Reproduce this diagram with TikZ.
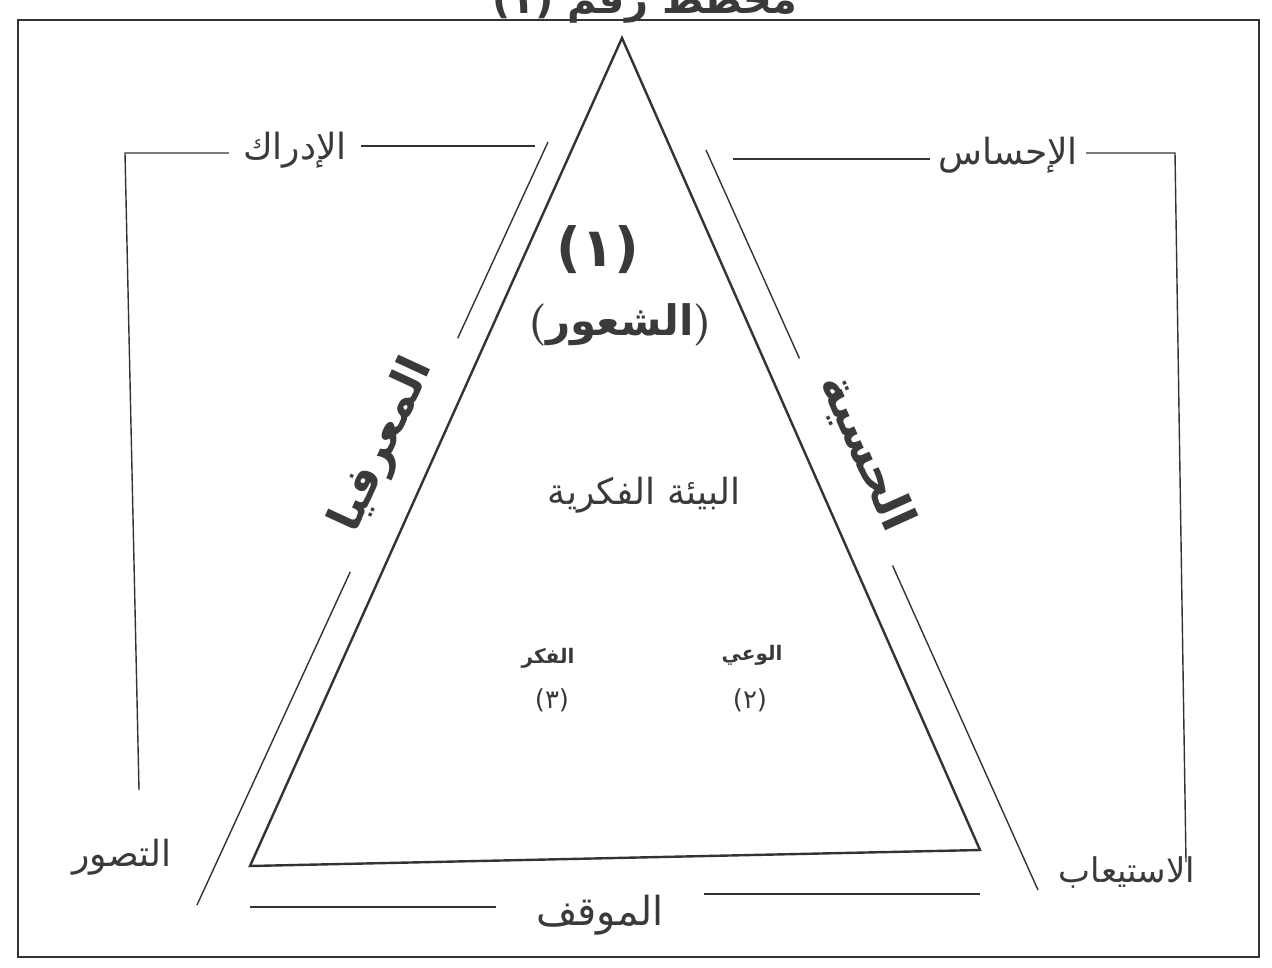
\documentclass[tikz,border=0pt]{standalone}
\usepackage{fontspec}
\newfontfamily\ar[Script=Arabic]{DejaVu Sans}
\TeXXeTstate=1
\newcommand{\AR}[1]{{\ar\beginR #1\endR}}
\newcommand{\fs}[1]{\fontsize{#1}{#1}\selectfont}
\definecolor{ink}{HTML}{333333}
\definecolor{txt}{HTML}{3A3A3A}
\tikzset{
  lbl/.style={text=txt, inner sep=2pt},
  ln/.style={draw=ink, line width=1.4pt},
  tri/.style={draw=ink, line width=2.4pt, line join=miter},
  frame/.style={draw=ink, line width=1.6pt},
  slant/.style={lbl, anchor=south, inner ysep=0pt}
}
\begin{document}
\begin{tikzpicture}[x=1pt,y=-1pt]
\useasboundingbox (0,0) rectangle (1272,967);
\clip (0,0) rectangle (1272,967);
\fill[white] (0,0) rectangle (1272,967);
% frame
\draw[frame] (18,20) rectangle (1259,957);
% title (cut by the top edge)
\node[lbl, anchor=base] (title) at (645,13) {\fs{40}\bfseries\ar (١) \AR{مخطط رقم}};
% triangle
\coordinate (A) at (622,38);
\coordinate (B) at (250,866);
\coordinate (C) at (980,850);
\draw[tri] (A) -- (B) -- (C) -- cycle;
% inner texts
\node[lbl] (one) at (598,250) {\fs{54}\bfseries\ar (١)};
\node[lbl] (shuur) at (620,325) {\fs{42}\bfseries (\AR{الشعور})};
\node[lbl] (bia) at (644,495) {\fs{36}\AR{البيئة الفكرية}};
\node[lbl] (wai) at (752,655) {\fs{20}\bfseries\AR{الوعي}};
\node[lbl] (two) at (750,700) {\fs{26}\ar (٢)};
\node[lbl] (fikr) at (548,658) {\fs{20}\bfseries\AR{الفكر}};
\node[lbl] (three) at (552,700) {\fs{26}\ar (٣)};
% left slanted line with text
\coordinate (L1) at (548,142);
\coordinate (L2) at (197,905);
\node[slant, rotate=65.3, inner xsep=36pt] (ltxt) at (404,455) {\fs{46}\bfseries\AR{المعرفيا}};
\draw[ln] (L1) -- (ltxt.south east);
\draw[ln] (ltxt.south west) -- (L2);
% right slanted line with text
\coordinate (R1) at (706,150);
\coordinate (R2) at (1038,890);
\node[slant, rotate=-65.8, inner xsep=30pt] (rtxt) at (846,462) {\fs{48}\bfseries\AR{الحسية}};
\draw[ln] (R1) -- (rtxt.south west);
\draw[ln] (rtxt.south east) -- (R2);
% top-left bracket
\node[lbl, inner xsep=14pt] (perc) at (295,150) {\fs{36}\AR{الإدراك}};
\coordinate (pl) at (125,153);
\coordinate (plb) at (139,790);
\coordinate (pr) at (535,146);
\draw[ln] (perc.east |- pr) -- (pr);
\draw[ln] (perc.west |- pl) -- (pl) -- (plb);
\node[lbl] (tasawwur) at (122,857) {\fs{36}\AR{التصور}};
% top-right bracket
\node[lbl, inner xsep=8pt] (sens) at (1008,155) {\fs{36}\AR{الإحساس}};
\coordinate (sl) at (733,159);
\coordinate (sr) at (1175,153);
\coordinate (srb) at (1186,862);
\draw[ln] (sl) -- (sens.west |- sl);
\draw[ln] (sens.east |- sr) -- (sr) -- (srb);
\node[lbl] (istiab) at (1127,872) {\fs{34}\AR{الاستيعاب}};
% bottom
\node[lbl, inner xsep=40pt] (pos) at (600,915) {\fs{40}\AR{الموقف}};
\coordinate (bl) at (250,907);
\coordinate (br) at (980,894);
\draw[ln] (bl) -- (bl -| pos.west);
\draw[ln] (br -| pos.east) -- (br);
\end{tikzpicture}
\end{document}
